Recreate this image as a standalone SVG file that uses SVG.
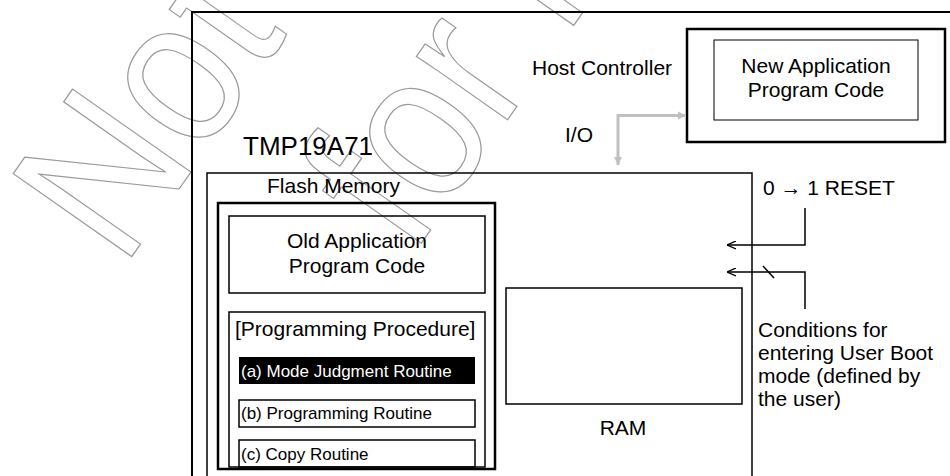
<svg xmlns="http://www.w3.org/2000/svg" width="950" height="476" viewBox="0 0 950 476">
<style>
  .t { font-family: "Liberation Sans", Arial, sans-serif; font-size: 21px; fill: #000; }
  .s { font-family: "Liberation Sans", Arial, sans-serif; font-size: 17px; fill: #000; }
  .box { fill: none; stroke: #000; }
  .wm { font-family: "Liberation Sans", Arial, sans-serif; font-size: 210px; fill: none; stroke: #9a9a9a; stroke-width: 1.2; }
  .conn { fill: none; stroke: #000; stroke-width: 1.5; }
  .io { fill: none; stroke: #c0c0c0; stroke-width: 3; }
</style>
<defs>
  <marker id="open" viewBox="0 0 10 10" refX="10" refY="5" markerWidth="9" markerHeight="9" markerUnits="userSpaceOnUse" orient="auto">
    <path d="M0,0.5 L10,5 L0,9.5" fill="none" stroke="#000" stroke-width="1.4"/>
  </marker>
  <marker id="gray" viewBox="0 0 10 10" refX="10" refY="5" markerWidth="8" markerHeight="9" markerUnits="userSpaceOnUse" orient="auto-start-reverse">
    <path d="M0,0 L10,5 L0,10 Z" fill="#c0c0c0"/>
  </marker>
</defs>
<rect width="950" height="476" fill="#fff"/>

<g id="watermark" transform="translate(123,269) rotate(-55) scale(0.88,1)">
  <text class="wm" x="0" y="0" vector-effect="non-scaling-stroke">Not Recommended</text>
  <text class="wm" x="200" y="229.5" vector-effect="non-scaling-stroke">for New Design</text>
</g>

<g id="frame">
  <rect class="box" x="192" y="12" width="800" height="500" stroke-width="2"/>
</g>

<g id="host">
  <rect class="box" x="687" y="29" width="258" height="113" stroke-width="2.5"/>
  <rect class="box" x="714" y="40" width="204" height="80" stroke-width="1"/>
  <text class="t" x="816" y="73" text-anchor="middle">New Application</text>
  <text class="t" x="816" y="97" text-anchor="middle">Program Code</text>
  <text class="t" x="532" y="75">Host Controller</text>
</g>

<g id="chip">
  <rect class="box" x="207" y="173" width="545" height="330" stroke-width="1.5"/>
  <text class="t" x="243" y="155" style="font-size:26px">TMP19A71</text>
  <text class="t" x="267" y="193">Flash Memory</text>
</g>

<g id="flash">
  <rect class="box" x="218" y="203" width="277" height="266" stroke-width="2.5"/>
</g>

<g id="oldapp">
  <rect class="box" x="229" y="216" width="256" height="77" stroke-width="1.5"/>
  <text class="t" x="357" y="248" text-anchor="middle">Old Application</text>
  <text class="t" x="357" y="273" text-anchor="middle">Program Code</text>
</g>

<g id="procedure">
  <rect class="box" x="229" y="312" width="256" height="155" stroke-width="1.5"/>
  <text class="t" x="235" y="336">[Programming Procedure]</text>
</g>

<g id="routine-a">
  <rect x="239" y="357" width="236" height="27" fill="#000"/>
  <text class="s" x="241" y="377" style="fill:#fff">(a) Mode Judgment Routine</text>
</g>

<g id="routine-b">
  <rect class="box" x="239" y="400" width="236" height="27" stroke-width="1.5"/>
  <text class="s" x="241" y="419">(b) Programming Routine</text>
</g>

<g id="routine-c">
  <rect class="box" x="239" y="440" width="236" height="27" stroke-width="1.5"/>
  <text class="s" x="241" y="460">(c) Copy Routine</text>
</g>

<g id="ram">
  <rect class="box" x="506" y="288" width="236" height="116" stroke-width="1.5"/>
  <text class="t" x="623" y="435" text-anchor="middle">RAM</text>
</g>

<g id="reset-label">
  <text class="t" x="763" y="195">0 → 1 RESET</text>
</g>

<g id="conditions-label">
  <text class="t" x="758" y="337">Conditions for</text>
  <text class="t" x="758" y="360">entering User Boot</text>
  <text class="t" x="758" y="383">mode (defined by</text>
  <text class="t" x="758" y="406">the user)</text>
</g>

<g id="connectors">
  <path class="io" d="M618,165 V115.5 H686" marker-start="url(#gray)" marker-end="url(#gray)"/>
  <text class="t" x="565" y="142">I/O</text>
  <path class="conn" d="M805,208 V245 H727" marker-end="url(#open)"/>
  <path class="conn" d="M805,309 V272 H727" marker-end="url(#open)"/>
  <path class="conn" d="M763,266 L774,278"/>
</g>
</svg>
